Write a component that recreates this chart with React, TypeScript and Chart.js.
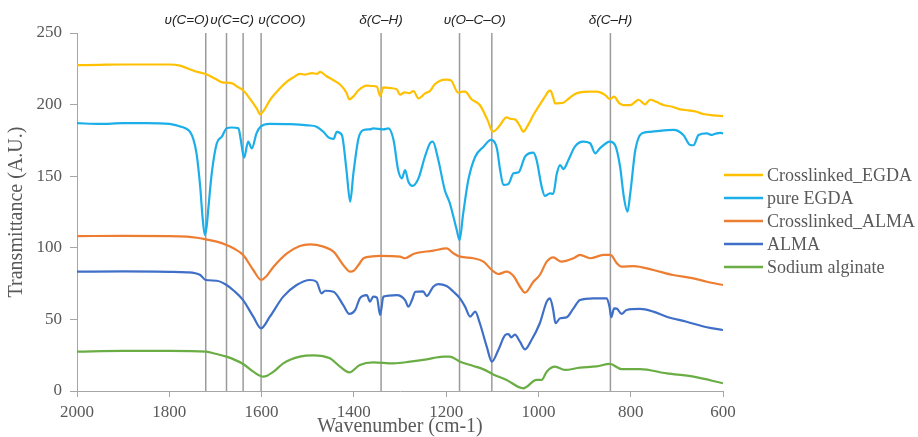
import { useEffect, useRef } from 'react';
import { Chart, registerables } from 'chart.js';

Chart.register(...registerables);

// ---- data: [wavenumber (cm-1), transmittance (A.U.)] ----
const crosslinkedEGDA: [number, number][] = [
  [2000, 227.5], [1950, 227.8], [1900, 228], [1850, 228], [1800, 228], [1775, 227], [1750, 224], [1735, 222.5],
  [1721, 221.4], [1700, 218], [1685, 215.5], [1676, 215.3], [1665, 215], [1650, 212], [1640, 210], [1625, 204],
  [1610, 197], [1603, 193.2], [1595, 196], [1580, 204], [1560, 211.4], [1545, 216], [1531, 219], [1517, 221.4],
  [1505, 221], [1491, 222], [1480, 221.5], [1473, 222.8], [1460, 220], [1445, 217.2], [1430, 214], [1416, 208.3],
  [1410, 203.7], [1400, 206], [1390, 210], [1372, 213.3], [1360, 213], [1350, 212.5], [1343, 206], [1336, 212],
  [1320, 211.5], [1307, 210.6], [1300, 207], [1290, 208.5], [1280, 208], [1271, 209.5], [1260, 204.4], [1245, 208],
  [1235, 209.5], [1225, 214], [1213, 216.7], [1200, 217.4], [1190, 217], [1174, 208.3], [1165, 209], [1159, 209],
  [1145, 203.7], [1127, 199.7], [1110, 189], [1099, 181.1], [1090, 183], [1083, 185.8], [1069, 191.1], [1060, 190],
  [1051, 189.7], [1040, 185], [1033, 181.1], [1022, 186], [1011, 192.7], [997, 200], [985, 206], [979, 209],
  [974, 209.7], [968, 205], [964, 200.8], [955, 201], [946, 201.3], [935, 204], [924, 206.8], [910, 208.5],
  [890, 209], [874, 209], [856, 206.8], [845, 203.9], [836, 205.5], [825, 201], [816, 199.7], [801, 199.7],
  [790, 202], [783, 203.4], [769, 200.2], [758, 203.4], [745, 202], [729, 199.7], [710, 198.5], [693, 196.7],
  [675, 196], [657, 195], [643, 193.4], [620, 192.5], [600, 192],
];

const pureEGDA: [number, number][] = [
  [2000, 187], [1950, 186.5], [1900, 187], [1850, 187], [1800, 186.5], [1777, 184.8], [1765, 183.5], [1755, 181],
  [1748, 176], [1741, 166], [1733, 142.7], [1728, 121.8], [1723, 108.9], [1719, 115], [1715, 128.7], [1708, 152],
  [1697, 173], [1686, 177.6], [1676, 183.4], [1665, 184], [1650, 183.4], [1645, 175.3], [1638, 162.9], [1629, 174.1],
  [1621, 169.4], [1611, 179.9], [1602, 184.6], [1582, 186.5], [1538, 186.3], [1500, 185.5], [1481, 184.6], [1466, 181],
  [1455, 177.1], [1444, 176], [1437, 181], [1426, 178.8], [1416, 154.3], [1408, 132.2], [1401, 152], [1390, 176.4],
  [1379, 182.3], [1365, 182.7], [1358, 183.4], [1336, 182.7], [1325, 183.4], [1314, 175.3], [1304, 154.3], [1296, 148.5],
  [1289, 154.3], [1282, 146.2], [1273, 143.2], [1260, 148.5], [1246, 163.6], [1235, 173], [1229, 174.1], [1217, 161.3],
  [1203, 140.4], [1192, 131.1], [1177, 112.4], [1171, 105.4], [1163, 124.1], [1152, 147.3], [1137, 163.6], [1119, 170.6],
  [1103, 175.3], [1090, 169.4], [1083, 154.3], [1076, 143.9], [1065, 144.6], [1054, 152], [1043, 152.7], [1029, 163.6],
  [1011, 166.4], [1004, 161.3], [993, 142.7], [986, 136.2], [975, 138], [968, 137.7], [960, 152], [953, 157.8],
  [946, 155], [935, 161.3], [921, 170.6], [903, 174.1], [888, 173], [877, 166], [867, 169.4], [845, 174.1],
  [834, 171.8], [823, 156.6], [815, 135.8], [807, 125.2], [801, 138], [790, 168.3], [776, 179.9], [758, 181],
  [707, 182.3], [686, 178.8], [671, 171.8], [664, 171.6], [653, 178.8], [635, 179.9], [624, 178.8], [617, 179.6],
  [606, 180.3], [600, 179.9],
];

const crosslinkedALMA: [number, number][] = [
  [2000, 108.2], [1900, 108.3], [1800, 108.2], [1762, 107.8], [1740, 107], [1721, 105.9], [1697, 104.3], [1676, 102],
  [1660, 99.5], [1640, 95], [1618, 84.5], [1601, 77.5], [1590, 80], [1574, 86.8], [1545, 96.1], [1517, 101.3],
  [1495, 102.4], [1466, 100.8], [1444, 97.3], [1423, 88], [1408, 83.3], [1400, 84], [1390, 88], [1379, 92.7],
  [1360, 94], [1343, 94.3], [1300, 93.8], [1289, 92.7], [1271, 95.7], [1228, 98], [1199, 99.6], [1184, 96.1],
  [1170, 93.8], [1141, 92.7], [1119, 90.3], [1101, 84.5], [1087, 81.7], [1069, 83.3], [1054, 80.3], [1040, 72.8],
  [1029, 68.6], [1011, 76.3], [997, 81], [982, 90.3], [968, 93.3], [950, 90.3], [924, 92.7], [910, 95],
  [888, 92.7], [859, 95], [844, 95], [830, 89.2], [820, 86.8], [794, 87.2], [751, 84.5], [708, 81],
  [664, 78.7], [635, 76.3], [600, 74],
];

const alma: [number, number][] = [
  [2000, 83.3], [1900, 83.5], [1800, 83.2], [1762, 82.9], [1733, 81], [1721, 77.5], [1697, 77], [1676, 74],
  [1660, 70], [1640, 63.5], [1618, 51.9], [1601, 43.8], [1582, 51.9], [1553, 65.9], [1524, 74], [1495, 77.5],
  [1481, 76.3], [1470, 68.2], [1462, 70], [1444, 69.3], [1423, 60], [1410, 53.8], [1397, 56.6], [1387, 64.7],
  [1372, 67], [1365, 62.4], [1358, 65.9], [1350, 65.2], [1343, 53.1], [1336, 65.9], [1307, 67], [1289, 63.5],
  [1282, 58.9], [1274, 63.5], [1267, 69.3], [1250, 69.6], [1242, 66.3], [1228, 72.8], [1217, 74.7], [1199, 73.3],
  [1184, 69.3], [1170, 64.7], [1159, 58.9], [1148, 51.9], [1137, 55.4], [1127, 47.3], [1112, 31], [1101, 20.5],
  [1087, 28.6], [1072, 39.1], [1065, 39.8], [1059, 37.5], [1051, 39.3], [1040, 34.4], [1029, 29.1], [1015, 35.6],
  [997, 47.3], [982, 62.4], [975, 64.7], [968, 56.6], [963, 47.3], [953, 50.8], [939, 51.4], [924, 57.7],
  [910, 63.5], [881, 64.7], [852, 64.7], [846, 58.9], [842, 51.5], [836, 57.7], [830, 57.5], [820, 53.8],
  [809, 56.6], [780, 57.3], [751, 55.4], [722, 51.9], [679, 48.4], [635, 44.5], [600, 42.6],
];

const sodiumAlginate: [number, number][] = [
  [2000, 27.5], [1900, 28], [1800, 28], [1720, 27.5], [1700, 26], [1676, 24], [1640, 18.9], [1618, 13.5],
  [1596, 10], [1574, 13.5], [1553, 19.3], [1517, 24], [1488, 24.9], [1452, 22.8], [1430, 17], [1410, 13],
  [1387, 18.2], [1358, 20], [1314, 19.3], [1278, 20.5], [1242, 22.1], [1206, 24], [1192, 24], [1170, 20.5],
  [1141, 17.5], [1119, 15.1], [1098, 11.6], [1069, 7.7], [1033, 1.9], [1004, 7.7], [993, 7.7], [982, 13.5],
  [964, 17], [943, 14.7], [910, 16.3], [874, 17.2], [845, 18.9], [820, 15.3], [780, 15.3], [722, 12.3],
  [664, 10], [600, 5.4],
];

const seriesLabels = ['Crosslinked_EGDA', 'pure EGDA', 'Crosslinked_ALMA', 'ALMA', 'Sodium alginate'];
const seriesData = [crosslinkedEGDA, pureEGDA, crosslinkedALMA, alma, sodiumAlginate];
const seriesColors = ['#FFC000', '#1BAEE8', '#ED7D31', '#3F6FC6', '#6AAD45'];

// band marker lines and their labels
const markerWavenumbers = [1721, 1676, 1640, 1601, 1341, 1171, 1101, 844];
const markerLabels = ['υ(C=O)', 'υ(C=C)', 'υ(COO)', 'δ(C–H)', 'υ(O–C–O)', 'δ(C–H)'];
const markerLabelWavenumbers = [1762, 1664, 1556, 1341, 1138, 844];

const xTitle = 'Wavenumber (cm-1)';
const yTitle = 'Transmittance (A.U.)';

const markerPlugin = {
  id: 'bandMarkers',
  beforeDatasetsDraw(chart: any) {
    const { ctx, chartArea, scales } = chart;
    ctx.save();
    ctx.strokeStyle = '#9b9b9b';
    ctx.lineWidth = 1.5;
    markerWavenumbers.forEach((wn) => {
      const x = scales.x.getPixelForValue(wn);
      ctx.beginPath();
      ctx.moveTo(x, chartArea.top);
      ctx.lineTo(x, chartArea.bottom);
      ctx.stroke();
    });
    ctx.restore();
  },
  afterDraw(chart: any) {
    const { ctx, chartArea, scales } = chart;
    ctx.save();
    ctx.fillStyle = '#222222';
    ctx.font = 'italic 13.5px "Liberation Sans", Arial, sans-serif';
    ctx.textAlign = 'center';
    ctx.textBaseline = 'middle';
    markerLabels.forEach((t, i) => {
      const x = scales.x.getPixelForValue(markerLabelWavenumbers[i]);
      ctx.fillText(t, x, chartArea.top - 13);
    });
    // legend
    const cy = (chartArea.top + chartArea.bottom) / 2 + 9;
    ctx.font = '18px "Liberation Serif", "Times New Roman", serif';
    ctx.textAlign = 'left';
    chart.data.datasets.forEach((ds: any, i: number) => {
      const y = cy + (i - 2) * 23;
      ctx.strokeStyle = ds.borderColor;
      ctx.lineWidth = 2.5;
      ctx.beginPath();
      ctx.moveTo(chartArea.right + 1, y);
      ctx.lineTo(chartArea.right + 40, y);
      ctx.stroke();
      ctx.fillStyle = '#595959';
      ctx.fillText(ds.label, chartArea.right + 44, y + 1);
    });
    ctx.restore();
  },
};

export default function App() {
  const ref = useRef<HTMLCanvasElement | null>(null);
  useEffect(() => {
    if (!ref.current) return;
    const tickFont = { family: '"Liberation Serif", "Times New Roman", serif', size: 17 };
    const chart = new Chart(ref.current, {
      type: 'line',
      data: {
        datasets: seriesData.map((d, i) => ({
          label: seriesLabels[i],
          data: d.map(([x, y]) => ({ x, y })),
          borderColor: seriesColors[i],
          backgroundColor: seriesColors[i],
          borderWidth: 2.2,
          pointRadius: 0,
          cubicInterpolationMode: 'monotone' as const,
          fill: false,
        })),
      },
      options: {
        animation: false,
        responsive: true,
        maintainAspectRatio: false,
        layout: { padding: { top: 33, right: 195, left: 0, bottom: 0 } },
        plugins: { legend: { display: false }, tooltip: { enabled: false } },
        scales: {
          x: {
            type: 'linear',
            reverse: true,
            min: 600,
            max: 2000,
            afterFit: (s: any) => { s.height = 46; },
            ticks: {
              stepSize: 200,
              color: '#595959',
              font: tickFont,
              padding: 5,
              maxRotation: 0,
              callback: (v: any) => String(v),
            },
            grid: { display: true, drawOnChartArea: false, drawTicks: true, tickLength: 6, color: '#a6a6a6' },
            border: { display: true, color: '#a6a6a6' },
            title: {
              display: true,
              text: xTitle,
              color: '#595959',
              font: { family: '"Liberation Serif", "Times New Roman", serif', size: 20, lineHeight: 1 },
              padding: { top: 0, bottom: 0 },
            },
          },
          y: {
            min: 0,
            max: 250,
            afterFit: (s: any) => { s.width = 77; },
            ticks: { stepSize: 50, color: '#595959', font: tickFont, padding: 8, callback: (v: any) => String(v) },
            grid: { display: true, drawOnChartArea: false, drawTicks: true, tickLength: 7, color: '#a6a6a6' },
            border: { display: true, color: '#a6a6a6' },
            title: {
              display: true,
              text: yTitle,
              color: '#595959',
              font: { family: '"Liberation Serif", "Times New Roman", serif', size: 20, lineHeight: 1 },
              padding: { top: 7, bottom: 0 },
            },
          },
        },
      },
      plugins: [markerPlugin],
    });
    return () => chart.destroy();
  }, []);
  return (
    <div style={{ position: 'absolute', left: 0, top: 0, width: 918, height: 437, background: '#fff' }}>
      <canvas ref={ref} />
    </div>
  );
}
